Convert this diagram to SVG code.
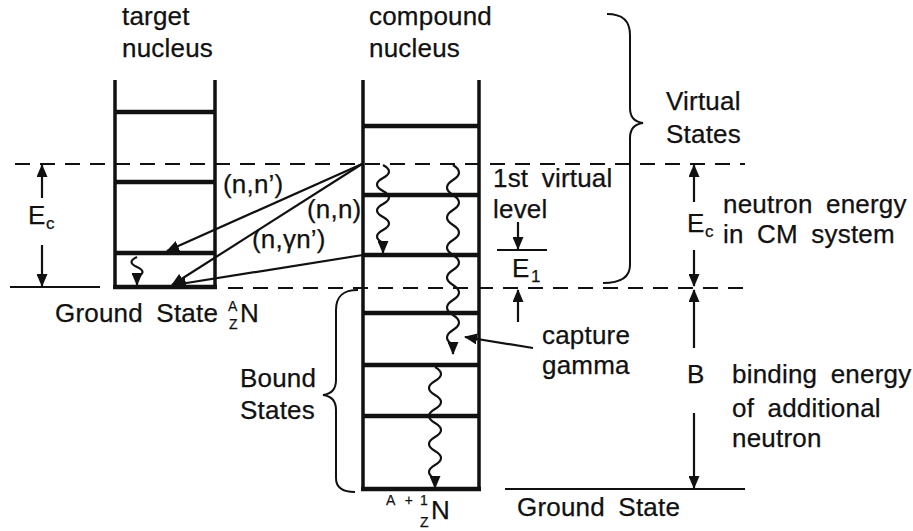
<svg xmlns="http://www.w3.org/2000/svg" width="913" height="531" viewBox="0 0 913 531">
<defs>
<marker id="ah" markerUnits="userSpaceOnUse" markerWidth="13" markerHeight="11" refX="12" refY="5.5" orient="auto">
<path d="M0,0 L13,5.5 L0,11 z" fill="#111"/>
</marker>
<style>
text{font-family:"Liberation Sans",Arial,sans-serif;font-size:26px;fill:#111;stroke:#111;stroke-width:0.25;letter-spacing:0.2px;word-spacing:6px}
.sm{font-size:17px}
.xs{font-size:14px}
.wall{stroke:#111;stroke-width:3.5;fill:none}
.lvl{stroke:#111;stroke-width:4.5;fill:none}
.dash{stroke:#111;stroke-width:2;stroke-dasharray:15 10;fill:none}
.ln{stroke:#111;stroke-width:2;fill:none}
.arr{stroke:#111;stroke-width:2.2;fill:none;marker-end:url(#ah)}
.wave{stroke:#111;stroke-width:2.2;fill:none;marker-end:url(#ah)}
</style>
</defs>
<rect width="913" height="531" fill="#fff"/>

<g id="reference-lines">
<path class="dash" d="M15,164 H745"/>
<path class="dash" d="M228,288 H745"/>
<path class="ln" d="M10,287 H100"/>
<path class="ln" d="M505,489 H745"/>
<path class="ln" d="M497,250 H547"/>
</g>

<g id="target-nucleus">
<path class="wall" d="M115,80 V289 M215,80 V289"/>
<path class="lvl" d="M115,112 H215 M115,182 H215 M115,253 H215 M113,287 H217"/>
<text x="122" y="25">target</text>
<text x="122" y="57">nucleus</text>
<text x="55" y="322">Ground State</text>
<text class="xs" x="228" y="311">A</text>
<text class="xs" x="229" y="329">Z</text>
<text x="240" y="322">N</text>
</g>

<g id="compound-nucleus">
<path class="wall" d="M363,80 V491 M479,80 V491"/>
<path class="lvl" d="M363,126 H479 M363,195 H479 M363,255 H479 M363,313 H479 M363,365 H479 M363,416 H479 M361,489 H481"/>
<text x="369" y="25">compound</text>
<text x="369" y="57">nucleus</text>
<text class="xs" x="386" y="505">A + </text>
<text class="xs" x="420" y="505">1</text>
<text class="xs" x="420" y="527">Z</text>
<text x="431" y="519">N</text>
</g>

<g id="virtual-states">
<path class="ln" d="M607,14 C622,14 630,20 630,35 L630,108 C630,118 635,122 643,123 C635,124 630,128 630,138 L630,265 C630,278 620,283 603,283"/>
<text x="666" y="110">Virtual</text>
<text x="666" y="143">States</text>
</g>

<g id="bound-states">
<path class="ln" d="M358,290 C343,290 336,296 336,310 L336,380 C336,390 331,394 323,395 C331,396 336,400 336,410 L336,478 C336,488 343,492 355,492"/>
<text x="240" y="387">Bound</text>
<text x="240" y="419">States</text>
</g>

<g id="labels">
<text x="223" y="193">(n,n’)</text>
<text x="307" y="218">(n,n)</text>
<text x="252" y="248">(n,γn’)</text>
<text x="493" y="187">1st virtual</text>
<text x="493" y="218">level</text>
<text x="512" y="277">E</text><text class="sm" x="531" y="282">1</text>
<text x="28" y="224">E</text><text class="sm" x="46" y="229">c</text>
<text x="687" y="232">E</text><text class="sm" x="705" y="237">c</text>
<text x="723" y="213">neutron energy</text>
<text x="723" y="243">in CM system</text>
<text x="542" y="344">capture</text>
<text x="542" y="374">gamma</text>
<text x="687" y="383">B</text>
<text x="732" y="383">binding energy</text>
<text x="732" y="417">of additional</text>
<text x="732" y="447">neutron</text>
<text x="517" y="516">Ground State</text>
</g>

<g id="connectors">
<path class="arr" d="M42,198 V165"/>
<path class="arr" d="M42,245 V286"/>
<path class="arr" d="M694,202 V165"/>
<path class="arr" d="M694,250 V286"/>
<path class="arr" d="M694,348 V290"/>
<path class="arr" d="M694,413 V488"/>
<path class="arr" d="M518,222 V249"/>
<path class="arr" d="M518,322 V290"/>
<path class="arr" d="M533,348 L465,337"/>
<path class="arr" d="M362,164 L167,251"/>
<path class="arr" d="M362,164 L172,285"/>
<path class="arr" d="M363,255 L174,285"/>
<path class="wave" d="M383,165 q12,6.5 0,13 t0,13 t0,13 t0,13 t0,13 t0,13 v10"/>
<path class="wave" d="M453,165 q12,7.5 0,15 t0,15 t0,15 t0,15 t0,15 t0,15 t0,15 t0,15 t0,15 t0,15 t0,15 t0,15 v9"/>
<path class="wave" d="M435,367 q12,7 0,14 t0,14 t0,14 t0,14 t0,14 t0,14 t0,14 t0,14 v9"/>
<path class="wave" d="M137,257 q-11,5 0,10 t0,10 v8"/>
</g>
</svg>
